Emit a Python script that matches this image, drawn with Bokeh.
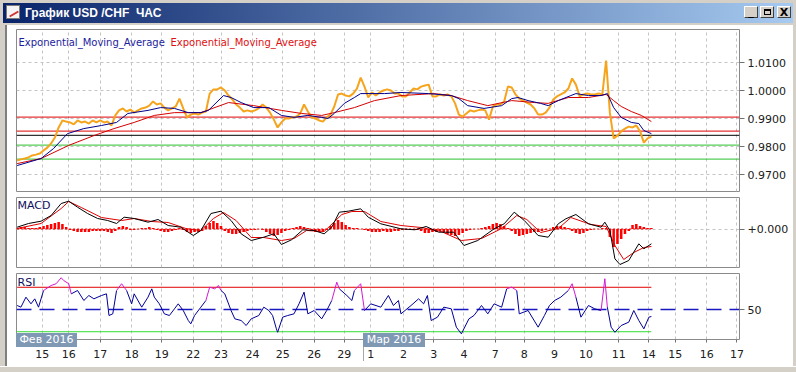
from bokeh.plotting import figure
from bokeh.models import Range1d, FixedTicker, Span, Label, Div, NumeralTickFormatter
from bokeh.layouts import column, row
from bokeh.embed import file_html
from bokeh.resources import INLINE

FONT = "DejaVu Sans"

# ---------------- data (x in hourly bars) ----------------
day_ticks = [20, 41, 66, 91, 115, 140, 162, 187, 211, 236, 260, 281, 307, 331,
             355, 380, 403, 427, 452, 478, 502, 523, 548, 572]
day_labels = ["15", "16", "17", "18", "19", "22", "23", "24", "25", "26", "29",
              "1", "2", "3", "4", "7", "8", "9", "10", "11", "14", "15", "16", "17"]
month_labels = ["Фев 2016", "Мар 2016"]

price_ticks = [0.97, 0.98, 0.99, 1.00, 1.01]
level_red = [0.9905, 0.9855]
level_bid = 0.9840
level_green = [0.9805, 0.9755]
last_price = "0.9836"

# close every 3 bars
price = [0.9750, 0.9754, 0.9757, 0.9761, 0.9768, 0.9771, 0.9775, 0.9786, 0.9796, 0.9811,
         0.9832, 0.9868, 0.9893, 0.9889, 0.9886, 0.9879, 0.9893, 0.9886, 0.9889, 0.9882,
         0.9893, 0.9886, 0.9893, 0.9886, 0.9889, 0.9875, 0.9911, 0.9929, 0.9936, 0.9925,
         0.9932, 0.9921, 0.9929, 0.9936, 0.9939, 0.9946, 0.9961, 0.9950, 0.9954, 0.9939,
         0.9929, 0.9936, 0.9943, 0.9971, 0.9936, 0.9904, 0.9914, 0.9918, 0.9914, 0.9921,
         0.9925, 0.9989, 1.0004, 1.0004, 1.0011, 1.0000, 0.9982, 0.9968, 0.9950, 0.9939,
         0.9925, 0.9929, 0.9925, 0.9929, 0.9936, 0.9950, 0.9939, 0.9921, 0.9896, 0.9868,
         0.9886, 0.9900, 0.9900, 0.9904, 0.9907, 0.9918, 0.9950, 0.9925, 0.9904, 0.9900,
         0.9893, 0.9889, 0.9904, 0.9914, 0.9943, 0.9986, 0.9989, 0.9982, 0.9979, 0.9989,
         1.0007, 1.0046, 1.0014, 0.9975, 0.9993, 0.9982, 0.9993, 1.0000, 1.0004, 1.0000,
         0.9989, 0.9989, 0.9979, 0.9979, 0.9993, 1.0007, 1.0004, 1.0014, 1.0018, 1.0021,
         0.9979, 0.9979, 0.9986, 0.9982, 0.9986, 0.9979, 0.9954, 0.9914, 0.9907, 0.9918,
         0.9929, 0.9925, 0.9929, 0.9932, 0.9929, 0.9896, 0.9943, 0.9950, 0.9950, 0.9961,
         1.0014, 1.0011, 0.9986, 0.9971, 0.9964, 0.9957, 0.9950, 0.9936, 0.9914, 0.9914,
         0.9921, 0.9939, 0.9968, 0.9979, 0.9986, 0.9993, 1.0007, 1.0043, 1.0021, 0.9979,
         0.9986, 0.9989, 0.9986, 0.9986, 0.9989, 0.9986, 1.0107, 0.9921, 0.9829, 0.9839,
         0.9854, 0.9864, 0.9871, 0.9868, 0.9875, 0.9854, 0.9814, 0.9829, 0.9836]

ema_fast_x = [0, 19, 29, 40, 53, 67, 79, 88, 104, 114, 125, 136, 146, 152, 164, 170, 178,
              188, 200, 210, 220, 231, 242, 247, 252, 260, 268, 273, 292, 305, 327, 345,
              351, 358, 371, 385, 393, 398, 406, 416, 422, 430, 440, 444, 454, 464, 469,
              474, 480, 488, 494, 498, 504]
ema_fast = [0.9732, 0.9757, 0.9793, 0.9846, 0.9864, 0.9875, 0.9886, 0.9918, 0.9929, 0.9939,
            0.9936, 0.9921, 0.9921, 0.9929, 0.9982, 0.9975, 0.9957, 0.9939, 0.9939, 0.9911,
            0.9904, 0.9911, 0.9904, 0.9900, 0.9918, 0.9954, 0.9975, 0.9989, 0.9989, 0.9993,
            0.9989, 0.9982, 0.9971, 0.9946, 0.9936, 0.9946, 0.9971, 0.9975, 0.9964, 0.9954,
            0.9946, 0.9964, 0.9982, 0.9989, 0.9982, 0.9982, 0.9989, 0.9939, 0.9904, 0.9886,
            0.9882, 0.9857, 0.9846]

ema_slow_x = [0, 19, 41, 61, 77, 93, 109, 125, 146, 168, 188, 210, 226, 242, 252, 268,
              284, 305, 331, 345, 358, 374, 393, 411, 422, 438, 454, 468, 474, 480, 488,
              496, 504]
ema_slow = [0.9739, 0.9757, 0.9804, 0.9839, 0.9864, 0.9886, 0.9911, 0.9921, 0.9921, 0.9957,
            0.9946, 0.9929, 0.9918, 0.9911, 0.9921, 0.9939, 0.9964, 0.9982, 0.9989, 0.9982,
            0.9964, 0.9946, 0.9964, 0.9957, 0.9954, 0.9975, 0.9975, 0.9986, 0.9964, 0.9943,
            0.9925, 0.9911, 0.9889]

macd_x = [0, 9, 19, 27, 35, 41, 48, 56, 64, 72, 79, 85, 93, 104, 112, 120, 130, 140, 146,
          154, 162, 170, 178, 186, 196, 204, 210, 218, 227, 236, 244, 250, 256, 263, 273,
          279, 289, 305, 316, 325, 335, 347, 355, 366, 379, 387, 395, 403, 414, 422, 430,
          436, 444, 454, 464, 467, 471, 475, 479, 486, 494, 498, 504]
macd = [0.00018, 0.00055, 0.00078, 0.00135, 0.00255, 0.00278, 0.00218, 0.00155, 0.00105,
        0.00085, 0.00055, 0.00118, 0.00105, 0.00068, 0.00095, 0.00035, 0.00018, -0.00065,
        -0.00015, 0.00155, 0.00178, 0.00085, -0.00048, -0.00115, -0.00082, -0.00048,
        -0.00155, -0.00108, -0.00008, -0.00015, -0.00048, 0.00018, 0.00168, 0.00178,
        0.00202, 0.00118, 0.00052, 0.00002, -0.00008, 0.00025, -0.00032, -0.00032,
        -0.00165, -0.00115, 0.00002, 0.00052, 0.00168, 0.00085, -0.00065, -0.00082,
        0.00052, 0.00102, 0.00145, 0.00052, 0.00018, 0.00068, -0.00015, -0.00298,
        -0.00355, -0.00315, -0.00148, -0.00198, -0.00148]

signal_x = [0, 19, 35, 41, 51, 67, 83, 93, 107, 120, 134, 146, 156, 164, 174, 186, 196,
            210, 220, 230, 244, 258, 266, 276, 289, 305, 321, 337, 353, 369, 385, 397,
            405, 416, 430, 440, 456, 468, 475, 482, 490, 498, 504]
signal = [0.00005, 0.00055, 0.00205, 0.00275, 0.00215, 0.00115, 0.00085, 0.00105, 0.00075,
          0.00065, 0.00005, -0.00015, 0.00105, 0.00165, 0.00085, -0.00085, -0.00085,
          -0.00115, -0.00095, -0.00015, -0.00025, 0.00145, 0.00175, 0.00175, 0.00075,
          0.00035, 0.00015, -0.00025, -0.00115, -0.00095, 0.00005, 0.00135, 0.00095,
          -0.00035, 0.00005, 0.00115, 0.00045, 0.00025, -0.00165, -0.00305, -0.00235,
          -0.00185, -0.00175]

# histogram every 3 bars
macd_hist = [0.0001, 0.0002, 0.0002, 0.0001, 0.0001, 0.0001, 0.0002, 0.0003, 0.0004, 0.0005,
             0.0006, 0.0007, 0.0005, 0.0002, -0.0001, -0.0002, -0.0003, -0.0003, -0.0003, -0.0003,
             -0.0002, -0.0002, -0.0002, -0.0002, -0.0003, -0.0004, -0.0002, 0.0002, 0.0003, 0.0002,
             -0.0001, -0.0001, 0.0000, 0.0001, 0.0001, 0.0002, 0.0001, -0.0001, -0.0002, -0.0003,
             -0.0003, -0.0002, -0.0001, 0.0001, -0.0001, -0.0003, -0.0004, -0.0003, -0.0003, -0.0002,
             0.0003, 0.0006, 0.0008, 0.0006, 0.0003, -0.0002, -0.0004, -0.0005, -0.0005, -0.0004,
             -0.0003, -0.0002, -0.0001, -0.0001, 0.0000, -0.0001, -0.0003, -0.0005, -0.0007, -0.0006,
             -0.0004, -0.0002, -0.0001, 0.0001, 0.0002, 0.0003, 0.0002, 0.0001, -0.0001, -0.0003,
             -0.0003, -0.0002, -0.0001, 0.0003, 0.0006, 0.0009, 0.0007, 0.0004, 0.0002, 0.0001,
             0.0001, 0.0000, -0.0001, -0.0002, -0.0003, -0.0003, -0.0003, -0.0002, -0.0003, -0.0003,
             -0.0002, -0.0002, -0.0001, -0.0001, 0.0000, -0.0001, -0.0001, -0.0002, -0.0004, -0.0004,
             -0.0003, -0.0003, -0.0002, -0.0003, -0.0005, -0.0006, -0.0007, -0.0006, -0.0004, -0.0002,
             -0.0001, 0.0000, 0.0000, 0.0001, 0.0002, 0.0003, 0.0005, 0.0006, 0.0005, 0.0003,
             0.0001, -0.0002, -0.0005, -0.0007, -0.0006, -0.0005, -0.0004, -0.0003, -0.0003, -0.0002,
             -0.0001, 0.0000, 0.0002, 0.0003, 0.0003, 0.0002, 0.0001, -0.0002, -0.0004, -0.0005,
             -0.0004, -0.0002, -0.0001, 0.0000, 0.0000, 0.0001, 0.0001, -0.0008, -0.0018, -0.0015,
             -0.0010, -0.0005, -0.0002, 0.0004, 0.0005, 0.0003, 0.0002, 0.0001, 0.0001]

rsi_x = [0, 3, 7, 11, 14, 17, 21, 27, 31, 35, 37, 41, 43, 48, 53, 57, 61, 67, 71, 73, 76, 79,
         83, 87, 91, 93, 99, 104, 107, 109, 113, 117, 121, 125, 128, 132, 136, 138, 141, 146,
         150, 153, 157, 160, 162, 165, 170, 173, 178, 182, 186, 192, 196, 200, 203, 206, 207,
         211, 215, 220, 224, 228, 231, 236, 242, 246, 250, 254, 256, 262, 266, 268, 273, 276,
         281, 289, 295, 299, 303, 305, 313, 319, 323, 326, 329, 334, 339, 345, 349, 353, 359,
         363, 369, 374, 379, 385, 389, 393, 397, 399, 406, 414, 419, 423, 427, 432, 438, 441,
         444, 448, 454, 459, 464, 467, 469, 472, 475, 480, 486, 490, 494, 498, 502, 504]
rsi = [53.6, 52.1, 61.1, 55.1, 59.6, 52.1, 67.1, 71.6, 73.2, 78.6, 76.1, 73.2, 64.1, 67.1,
       58.1, 62.6, 59.6, 62.6, 64.1, 44.6, 46.1, 67.1, 73.2, 67.1, 55.1, 64.1, 52.1, 61.1,
       68.6, 61.1, 55.1, 46.1, 44.6, 50.6, 55.1, 49.1, 40.1, 37.1, 44.6, 52.1, 58.1, 70.1,
       68.6, 71.6, 67.1, 64.1, 49.1, 41.6, 40.1, 35.6, 41.6, 44.6, 52.1, 49.1, 44.6, 32.6,
       29.5, 43.1, 44.6, 46.1, 55.1, 65.6, 46.1, 49.1, 41.6, 49.1, 58.1, 74.6, 68.6, 62.6,
       58.1, 67.1, 73.2, 49.1, 55.1, 52.1, 62.6, 53.6, 58.1, 46.1, 53.6, 59.6, 55.1, 62.6,
       40.1, 43.1, 52.1, 50.6, 34.1, 28.1, 41.6, 44.6, 53.6, 46.1, 55.1, 52.1, 68.6, 70.1,
       67.1, 46.1, 49.1, 34.1, 44.6, 53.6, 58.1, 61.1, 67.1, 73.2, 61.1, 43.1, 53.6, 50.6,
       49.1, 77.7, 52.1, 34.1, 29.5, 35.6, 38.6, 49.1, 40.1, 32.6, 43.1, 43.7]
rsi_levels = [70, 50, 30]

price_x = [3 * i for i in range(len(price))]
hist_x = [3 * i for i in range(len(macd_hist))]

# ---------------- figures ----------------
x_range = Range1d(-0.5, 574.0)
GRID = "#c4c4c4"


def make_fig(height, y0, y1, top, bottom, xaxis=False):
    p = figure(width=785, height=height, x_range=x_range, y_range=Range1d(y0, y1),
               output_backend="svg", toolbar_location=None,
               x_axis_location="below" if xaxis else None, y_axis_location="right",
               min_border_left=9, min_border_right=53, min_border_top=top,
               min_border_bottom=bottom)
    p.background_fill_color = "white"
    p.border_fill_color = "white"
    p.outline_line_color = "#8a8a8a"
    p.outline_line_width = 1
    p.xgrid.ticker = FixedTicker(ticks=day_ticks)
    p.xgrid.grid_line_color = GRID
    p.xgrid.grid_line_dash = "3 3"
    p.ygrid.grid_line_color = GRID
    p.ygrid.grid_line_dash = "3 3"
    ax = p.yaxis[0]
    ax.axis_line_color = None
    ax.major_tick_out = 5
    ax.major_tick_in = 0
    ax.minor_tick_line_color = None
    ax.major_tick_line_color = "#707070"
    ax.major_label_text_font = FONT
    ax.major_label_text_font_size = "11px"
    ax.major_label_text_color = "#202020"
    ax.major_label_standoff = 3
    return p


# main price panel
p1 = make_fig(169, 0.96393, 1.02179, 4, 3)
p1.yaxis.ticker = FixedTicker(ticks=price_ticks)
p1.yaxis.formatter = NumeralTickFormatter(format="0.0000")
for lv in level_red:
    p1.add_layout(Span(location=lv, dimension="width", line_color="#e00000", line_width=1, level="underlay"))
p1.add_layout(Span(location=level_bid, dimension="width", line_color="#000000", line_width=1, level="underlay"))
for lv in level_green:
    p1.add_layout(Span(location=lv, dimension="width", line_color="#2cc22c", line_width=1, level="underlay"))
p1.line(price_x, price, line_color="#f7a41d", line_width=2)
p1.line(ema_slow_x, ema_slow, line_color="#d40000", line_width=1)
p1.line(ema_fast_x, ema_fast, line_color="#00008c", line_width=1)
p1.add_layout(Label(x=x_range.start, y=1.02179, x_offset=2, y_offset=-7, text="Exponential_Moving_Average",
                    text_color="#1c1ca0", text_font=FONT, text_font_size="10px", text_baseline="top"))
p1.add_layout(Label(x=x_range.start, y=1.02179, x_offset=154, y_offset=-7, text="Exponential_Moving_Average",
                    text_color="#e01010", text_font=FONT, text_font_size="10px", text_baseline="top"))
p1.add_layout(Label(x=x_range.end, y=level_bid, x_offset=6, text=last_price, text_color="white",
                    text_font=FONT, text_font_size="11px", text_baseline="middle",
                    background_fill_color="#f5a11c", padding=1))

# MACD panel
p2 = make_fig(76, -0.00385, 0.00315, 3, 3)
p2.yaxis.ticker = FixedTicker(ticks=[0])
p2.yaxis.major_label_overrides = {0: "+0.000"}
p2.vbar(x=hist_x, top=macd_hist, bottom=0, width=2.0, fill_color="#ff0000", line_color=None)
p2.line([hist_x[0], hist_x[-1]], [0, 0], line_color="#ff0000", line_dash="2 2", line_width=1)
p2.line(signal_x, signal, line_color="#e00000", line_width=1)
p2.line(macd_x, macd, line_color="#000000", line_width=1)
p2.add_layout(Label(x=x_range.start, y=0.00315, x_offset=1, y_offset=-1, text="MACD",
                    text_color="#101060", text_font=FONT, text_font_size="11px", text_baseline="top"))

# RSI panel
p3 = make_fig(96, 23.0, 82.4, 3, 27, xaxis=True)
p3.yaxis.ticker = FixedTicker(ticks=[rsi_levels[1]])
p3.ygrid.visible = False
xa = p3.xaxis[0]
xa.ticker = FixedTicker(ticks=day_ticks)
xa.major_label_overrides = dict(zip(day_ticks, day_labels))
xa.axis_line_color = None
xa.major_tick_out = 3
xa.major_tick_in = 0
xa.major_tick_line_color = "#707070"
xa.minor_tick_line_color = None
xa.major_label_text_font = FONT
xa.major_label_text_font_size = "11px"
xa.major_label_text_color = "#202020"
xa.major_label_standoff = 7
p3.add_layout(Span(location=rsi_levels[1], dimension="width", line_color="#1818c0", line_width=1.3,
                   line_dash="15 8", level="underlay"))
p3.line([rsi_x[0], rsi_x[-1]], [rsi_levels[0]] * 2, line_color="#e00000", line_width=1)
p3.line([rsi_x[0], rsi_x[-1]], [rsi_levels[2]] * 2, line_color="#33dd33", line_width=1)
seg_colors = ["#d21ad2" if max(a, b) > rsi_levels[0] else "#000099" for a, b in zip(rsi[:-1], rsi[1:])]
p3.segment(x0=rsi_x[:-1], y0=rsi[:-1], x1=rsi_x[1:], y1=rsi[1:], line_color=seg_colors, line_width=1)
p3.add_layout(Label(x=x_range.start, y=82.4, x_offset=1, y_offset=-2, text="RSI",
                    text_color="#101060", text_font=FONT, text_font_size="11px", text_baseline="top"))

# ---------------- window chrome ----------------
WIN = "#d4d0c8"
title_html = (
    '<div style="position:relative;width:796px;height:25px;background:%s;overflow:hidden;">'
    '<div style="position:absolute;left:3px;top:3px;width:790px;height:20px;'
    'background:linear-gradient(to right,#0a246a,#a6caf0);"></div>'
    '<div style="position:absolute;left:6px;top:5px;width:14px;height:14px;background:#f4f4f4;'
    'border:1px solid #7a7a7a;"><div style="position:absolute;left:2px;top:7px;width:10px;height:2px;'
    'background:#d03030;transform:rotate(-30deg);"></div></div>'
    '<div style="position:absolute;left:25px;top:5px;color:#ffffff;font-weight:bold;font-size:12px;'
    'font-family:\'Liberation Sans\';white-space:pre;">График USD /CHF  ЧАС</div>'
    '<div style="position:absolute;left:744px;top:6px;width:14px;height:12px;background:%s;'
    'border:1px solid;border-color:#fff #404040 #404040 #fff;font:bold 11px \'DejaVu Sans\';'
    'line-height:10px;text-align:center;color:#000;">_</div>'
    '<div style="position:absolute;left:760px;top:6px;width:14px;height:12px;background:%s;'
    'border:1px solid;border-color:#fff #404040 #404040 #fff;">'
    '<div style="position:absolute;left:3px;top:2px;width:7px;height:6px;border:1px solid #000;'
    'border-top-width:2px;"></div></div>'
    '<div style="position:absolute;left:777px;top:6px;width:14px;height:12px;background:%s;'
    'border:1px solid;border-color:#fff #404040 #404040 #fff;font:bold 11px \'DejaVu Sans\';'
    'line-height:12px;text-align:center;color:#000;">X</div>'
    '</div>' % (WIN, WIN, WIN, WIN)
)
title = Div(text=title_html, width=796, height=25, margin=0)
left = Div(text="", width=7, height=341, margin=0,
           styles={"background-color": WIN, "box-shadow": "inset -2px 0 0 #808080"})
right = Div(text="", width=4, height=341, margin=0,
            styles={"background-color": WIN, "box-shadow": "inset 1px 0 0 #ffffff"})

MBOX = ("position:absolute;top:-39px;height:14px;background:#7f99b4;color:#ffffff;"
        "font-family:'DejaVu Sans';font-size:11px;line-height:14px;text-align:center;white-space:nowrap;")
bottom_html = (
    '<div style="position:relative;width:796px;height:6px;">'
    '<div style="position:absolute;left:363px;top:-32px;width:1px;height:21px;background:#a8a8a8;"></div>'
    '<div style="%sleft:16px;width:61px;">%s</div>'
    '<div style="%sleft:363px;width:62px;">%s</div>'
    '</div>' % (MBOX, month_labels[0], MBOX, month_labels[1])
)
bottom = Div(text=bottom_html, width=796, height=6, margin=0,
             styles={"background-color": WIN, "box-shadow": "inset 0 1px 0 #ffffff",
                     "overflow": "visible", "position": "relative", "z-index": "10"})

body = row(left, column(p1, p2, p3, spacing=0), right, spacing=0)
layout = column(title, body, bottom, spacing=0)

open("out.html", "w").write(file_html(layout, INLINE))
